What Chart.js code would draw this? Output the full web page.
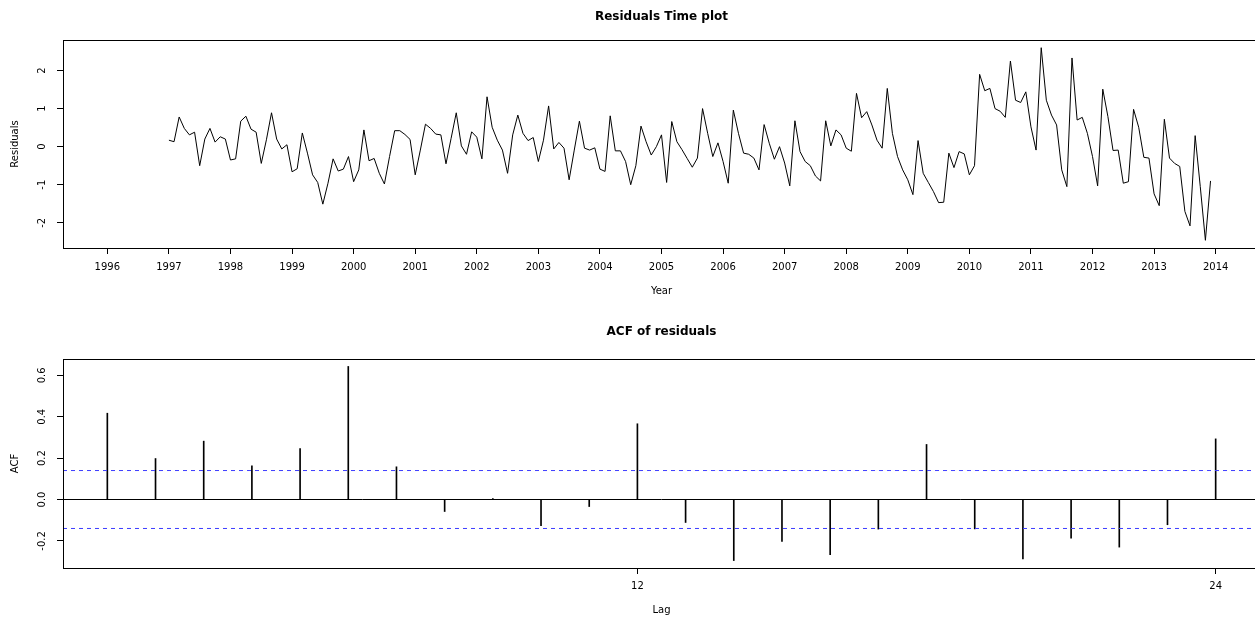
<!DOCTYPE html>
<html>
<head>
<meta charset="utf-8">
<script src="https://cdn.jsdelivr.net/npm/chart.js@4.4.0/dist/chart.umd.min.js"></script>
<style>
html, body { margin:0; padding:0; background:#fff; overflow:hidden; width:1255px; height:621px; }
#wrap { position:relative; width:1255px; height:621px; overflow:hidden; }
canvas { position:absolute; left:0; }
#graficaRes { top:0; }
#graficaAcf { top:310px; }
</style>
</head>
<body>
<div id="wrap">
<canvas id="graficaRes" width="1264" height="310"></canvas>
<canvas id="graficaAcf" width="1264" height="311"></canvas>
</div>
<script>
// residuos mensuales, enero 1997 - diciembre 2013
const startYear = 1997;
const residuals = [
   0.17,  0.13,  0.78,  0.48,  0.31,  0.38, -0.50,  0.20,  0.48,  0.12,  0.26,  0.20,
  -0.35, -0.32,  0.67,  0.80,  0.46,  0.38, -0.44,  0.18,  0.89,  0.20, -0.06,  0.05,
  -0.66, -0.58,  0.36, -0.17, -0.74, -0.94, -1.51, -0.96, -0.32, -0.64, -0.59, -0.26,
  -0.92, -0.61,  0.44, -0.37, -0.31, -0.70, -0.98, -0.26,  0.42,  0.42,  0.32,  0.19,
  -0.74, -0.09,  0.59,  0.48,  0.33,  0.31, -0.45,  0.22,  0.89,  0.02, -0.20,  0.39,
   0.25, -0.32,  1.31,  0.51,  0.17, -0.09, -0.70,  0.31,  0.83,  0.35,  0.16,  0.24,
  -0.39,  0.17,  1.07, -0.06,  0.11, -0.04, -0.87, -0.09,  0.67, -0.04, -0.09, -0.03,
  -0.59, -0.65,  0.81, -0.11, -0.11, -0.39, -1.00, -0.50,  0.54,  0.13, -0.22,  0.00,
   0.31, -0.94,  0.66,  0.13, -0.08, -0.31, -0.54, -0.30,  1.00,  0.35, -0.26,  0.10,
  -0.39, -0.96,  0.96,  0.35, -0.17, -0.20, -0.30, -0.61,  0.58,  0.09, -0.33,  0.00,
  -0.43, -1.03,  0.68, -0.13, -0.39, -0.50, -0.77, -0.90,  0.68,  0.02,  0.44,  0.31,
  -0.04, -0.12,  1.40,  0.76,  0.92,  0.57,  0.17, -0.04,  1.53,  0.35, -0.26, -0.61,
  -0.87, -1.26,  0.16, -0.70, -0.94, -1.18, -1.47, -1.46, -0.17, -0.55, -0.13, -0.19,
  -0.74, -0.50,  1.90,  1.47,  1.53,  1.00,  0.93,  0.77,  2.25,  1.22,  1.16,  1.44,
   0.52, -0.09,  2.60,  1.22,  0.83,  0.57, -0.61, -1.05,  2.33,  0.70,  0.77,  0.35,
  -0.26, -1.03,  1.51,  0.79, -0.10, -0.09, -0.96, -0.92,  0.98,  0.51, -0.28, -0.30,
  -1.24, -1.55,  0.72, -0.30, -0.44, -0.52, -1.70, -2.08,  0.29, -1.05, -2.46, -0.90
];
const yearTicks = [1996,1997,1998,1999,2000,2001,2002,2003,2004,2005,2006,2007,2008,2009,2010,2011,2012,2013,2014];
const residTicks = [-2, -1, 0, 1, 2];

// ACF de los residuos
const acfLags = [1,2,3,4,5,6,7,8,9,10,11,12,13,14,15,16,17,18,19,20,21,22,23,24];
const acfValues = [0.417, 0.198, 0.282, 0.163, 0.246, 0.643, 0.158, -0.058, 0.004, -0.126, -0.034, 0.366,
                   -0.111, -0.295, -0.203, -0.266, -0.143, 0.266, -0.142, -0.287, -0.187, -0.230, -0.122, 0.293];
const acfTicks = [-0.2, 0.0, 0.2, 0.4, 0.6];
const lagTicks = [12, 24];
const ciBound = 0.14;
const lagMin = 0.08, lagMax = 24.92;

const fuente = '"DejaVu Sans", sans-serif';

// marco, titulo y etiquetas al estilo de R
const marcoR = {
  id: 'marcoR',
  afterDraw: (chart, args, opts) => {
    const ctx = chart.ctx;
    const a = chart.chartArea;
    ctx.save();
    ctx.strokeStyle = '#000';
    ctx.lineWidth = 1;
    ctx.strokeRect(Math.round(a.left) + 0.5, Math.round(a.top) + 0.5,
                   Math.round(a.right - a.left), Math.round(a.bottom - a.top));
    const mid = (a.left + a.right) / 2;
    ctx.fillStyle = '#000';
    ctx.textAlign = 'center';
    ctx.textBaseline = 'middle';
    ctx.font = 'bold 12px ' + fuente;
    ctx.fillText(opts.title, mid, opts.titleY);
    ctx.font = '10px ' + fuente;
    ctx.fillText(opts.xLabel, mid, opts.xLabelY);
    const ys = chart.scales.y;
    ys.ticks.forEach(t => {
      const py = ys.getPixelForValue(t.value);
      ctx.save();
      ctx.translate(42.5, py);
      ctx.rotate(-Math.PI / 2);
      ctx.fillText(opts.fmt(t.value), 0, 0);
      ctx.restore();
    });
    ctx.save();
    ctx.translate(15, (a.top + a.bottom) / 2);
    ctx.rotate(-Math.PI / 2);
    ctx.fillText(opts.yLabel, 0, 0);
    ctx.restore();
    ctx.restore();
  }
};

function ejeX(min, max, marcas, alto, pad) {
  return {
    type: 'linear', min: min, max: max, offset: false,
    afterBuildTicks: s => { s.ticks = marcas.map(v => ({ value: v })); },
    afterFit: s => { s.height = alto; },
    grid: { offset: false, drawOnChartArea: false, drawTicks: true, tickLength: 6, tickColor: '#000' },
    border: { display: false },
    ticks: { color: '#000', font: { family: fuente, size: 10 }, padding: pad,
             maxRotation: 0, minRotation: 0, autoSkip: false, callback: v => String(v) }
  };
}
function ejeY(min, max, marcas) {
  return {
    type: 'linear', min: min, max: max,
    afterBuildTicks: s => { s.ticks = marcas.map(v => ({ value: v })); },
    afterFit: s => { s.width = 63; },
    grid: { drawOnChartArea: false, drawTicks: true, tickLength: 6, tickColor: '#000' },
    border: { display: false },
    ticks: { color: 'rgba(0,0,0,0)', font: { family: fuente, size: 10 } }
  };
}

document.addEventListener("DOMContentLoaded", function(event) {
    GraficoResiduos();
    GraficoAcf();
});

//----------------------------------------------------------------------------
function GraficoResiduos(){
  const ctx = document.getElementById('graficaRes');
  new Chart(ctx, {
    type: 'line',
    data: {
      datasets: [{
        data: residuals.map((v, i) => ({ x: startYear + i / 12, y: v })),
        borderColor: '#000', borderWidth: 1, pointRadius: 0, tension: 0, fill: false
      }]
    },
    options: {
      responsive: false, animation: false, events: [],
      layout: { padding: { top: 40, right: 4, left: 0, bottom: 0 } },
      plugins: {
        legend: { display: false }, tooltip: { enabled: false },
        marcoR: { title: 'Residuals Time plot', titleY: 17, xLabel: 'Year', xLabelY: 291,
                  yLabel: 'Residuals', fmt: v => String(v) }
      },
      scales: {
        x: ejeX(1995.28, 2014.72, yearTicks, 62, 7),
        y: ejeY(-2.662, 2.802, residTicks)
      }
    },
    plugins: [marcoR]
  });
}
//----------------------------------------------------------------------------
function GraficoAcf(){
  const ctx = document.getElementById('graficaAcf');
  new Chart(ctx, {
    type: 'line',
    data: {
      datasets: [
        { type: 'bar', data: acfLags.map((l, i) => ({ x: l, y: acfValues[i] })),
          backgroundColor: '#000', borderWidth: 0, barThickness: 1, order: 3 },
        { type: 'line', data: [{ x: lagMin, y: 0 }, { x: lagMax, y: 0 }],
          borderColor: '#000', borderWidth: 1, pointRadius: 0, order: 2 },
        { type: 'line', data: [{ x: lagMin, y: ciBound }, { x: lagMax, y: ciBound }],
          borderColor: '#3c3cff', borderWidth: 1, borderDash: [4, 4], pointRadius: 0, order: 1 },
        { type: 'line', data: [{ x: lagMin, y: -ciBound }, { x: lagMax, y: -ciBound }],
          borderColor: '#3c3cff', borderWidth: 1, borderDash: [4, 4], pointRadius: 0, order: 1 }
      ]
    },
    options: {
      responsive: false, animation: false, events: [],
      layout: { padding: { top: 49, right: 4, left: 0, bottom: 0 } },
      plugins: {
        legend: { display: false }, tooltip: { enabled: false },
        marcoR: { title: 'ACF of residuals', titleY: 22, xLabel: 'Lag', xLabelY: 300,
                  yLabel: 'ACF', fmt: v => v.toFixed(1) }
      },
      scales: {
        x: ejeX(lagMin, lagMax, lagTicks, 53, 6),
        y: ejeY(-0.331, 0.679, acfTicks)
      }
    },
    plugins: [marcoR]
  });
}
//----------------------------------------------------------------------------
</script>
</body>
</html>
